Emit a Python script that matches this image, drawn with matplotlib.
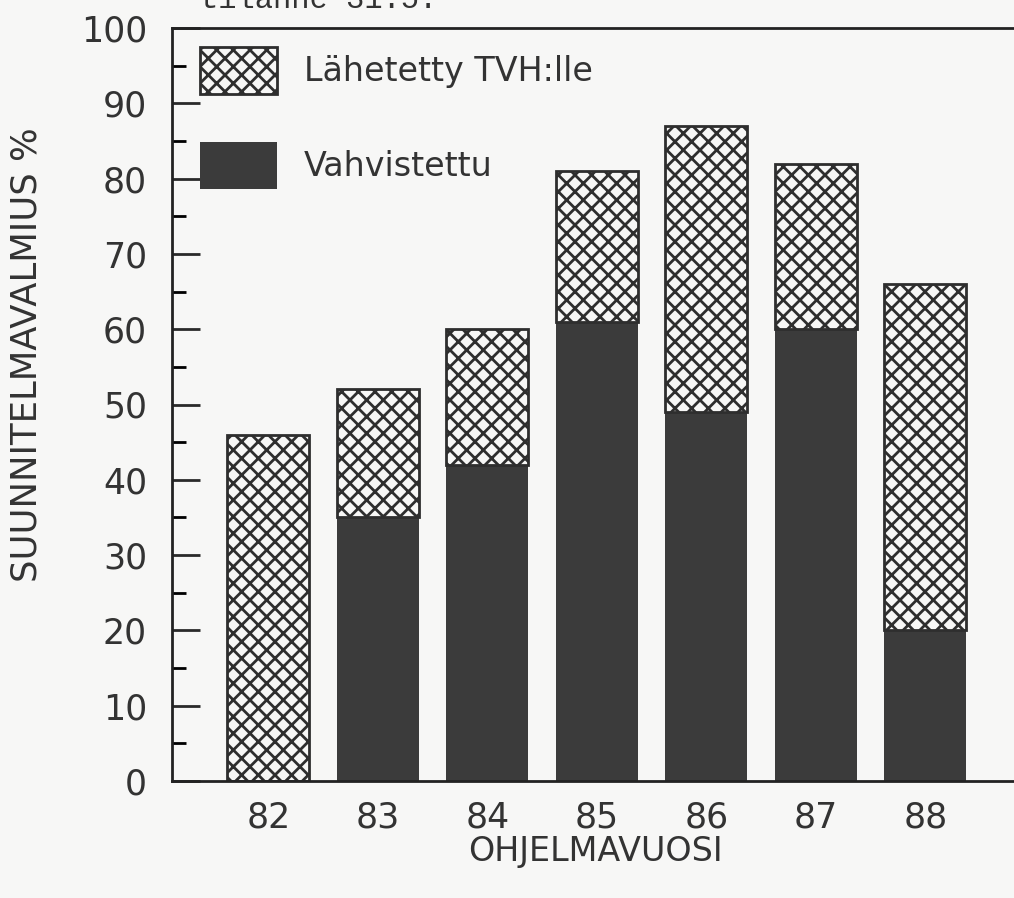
import matplotlib
matplotlib.use("Agg")
import matplotlib.pyplot as plt
import numpy as np

years = ["82", "83", "84", "85", "86", "87", "88"]
x_pos = [82, 83, 84, 85, 86, 87, 88]
vahvistettu = [0, 35, 42, 61, 49, 60, 20]
lahetetty_total = [46, 52, 60, 81, 87, 82, 66]
lahetetty = [t - v for t, v in zip(lahetetty_total, vahvistettu)]
yticks = [0, 10, 20, 30, 40, 50, 60, 70, 80, 90, 100]

plt.rcParams['font.family'] = ['DejaVu Sans']
plt.rcParams['hatch.linewidth'] = 2.0
plt.rcParams['hatch.color'] = '#2e2e2e'

W, H = 1014, 898
fig = plt.figure(figsize=(W / 100, H / 100), dpi=100, facecolor='#f7f7f6')
ax = fig.add_axes([172 / W, 1 - 781 / H, (1040 - 172) / W, (781 - 28) / H])
ax.set_facecolor('#f7f7f6')

dark = ax.bar(x_pos, vahvistettu, width=0.75, color='#3b3b3b', edgecolor='#3b3b3b',
              linewidth=0, label='Vahvistettu')
hat = ax.bar(x_pos, lahetetty, bottom=vahvistettu, width=0.75, facecolor='#f7f7f6',
             edgecolor='#2e2e2e', hatch='xx', linewidth=2.0, label='Lähetetty TVH:lle')

ax.set_xlim(81.12, 81.12 + (1040 - 172) / 109.5)
ax.set_ylim(0, 100)
ax.set_xticks(x_pos)
ax.set_xticklabels(years)
ax.set_yticks(yticks)
ax.set_yticks(np.arange(5, 100, 10), minor=True)
ax.tick_params(axis='y', which='major', direction='in', length=20, width=2,
               labelsize=25, pad=18, colors='#2a2a2a')
ax.tick_params(axis='y', which='minor', direction='in', length=10, width=2)
ax.tick_params(axis='x', length=0, labelsize=25, pad=14, colors='#2a2a2a')
for lbl in ax.get_yticklabels() + ax.get_xticklabels():
    lbl.set_color('#333333')

for s in ['left', 'bottom', 'top']:
    ax.spines[s].set_linewidth(2)
    ax.spines[s].set_color('#222222')
ax.spines['right'].set_visible(False)

leg = ax.legend(handles=[hat, dark], loc='upper left', bbox_to_anchor=(0.0173, 0.993),
                frameon=False, fontsize=24, handlelength=2.31, handleheight=1.8,
                labelspacing=1.44, handletextpad=0.8, borderaxespad=0)
for t in leg.get_texts():
    t.set_color('#333333')

fig.text(595 / W, 1 - 851 / H, 'OHJELMAVUOSI', ha='center', va='center',
         fontsize=24, color='#333333')
fig.text(27 / W, 1 - 355 / H, 'SUUNNITELMAVALMIUS %', ha='center', va='center',
         rotation=90, fontsize=25.5, color='#333333')
fig.text(200 / W, 1 - 8 / H, 'tilanne 31.5.', ha='left', va='baseline',
         fontsize=22, family='Liberation Mono', color='#333333')

fig.savefig('out.png', dpi=100, facecolor=fig.get_facecolor())
